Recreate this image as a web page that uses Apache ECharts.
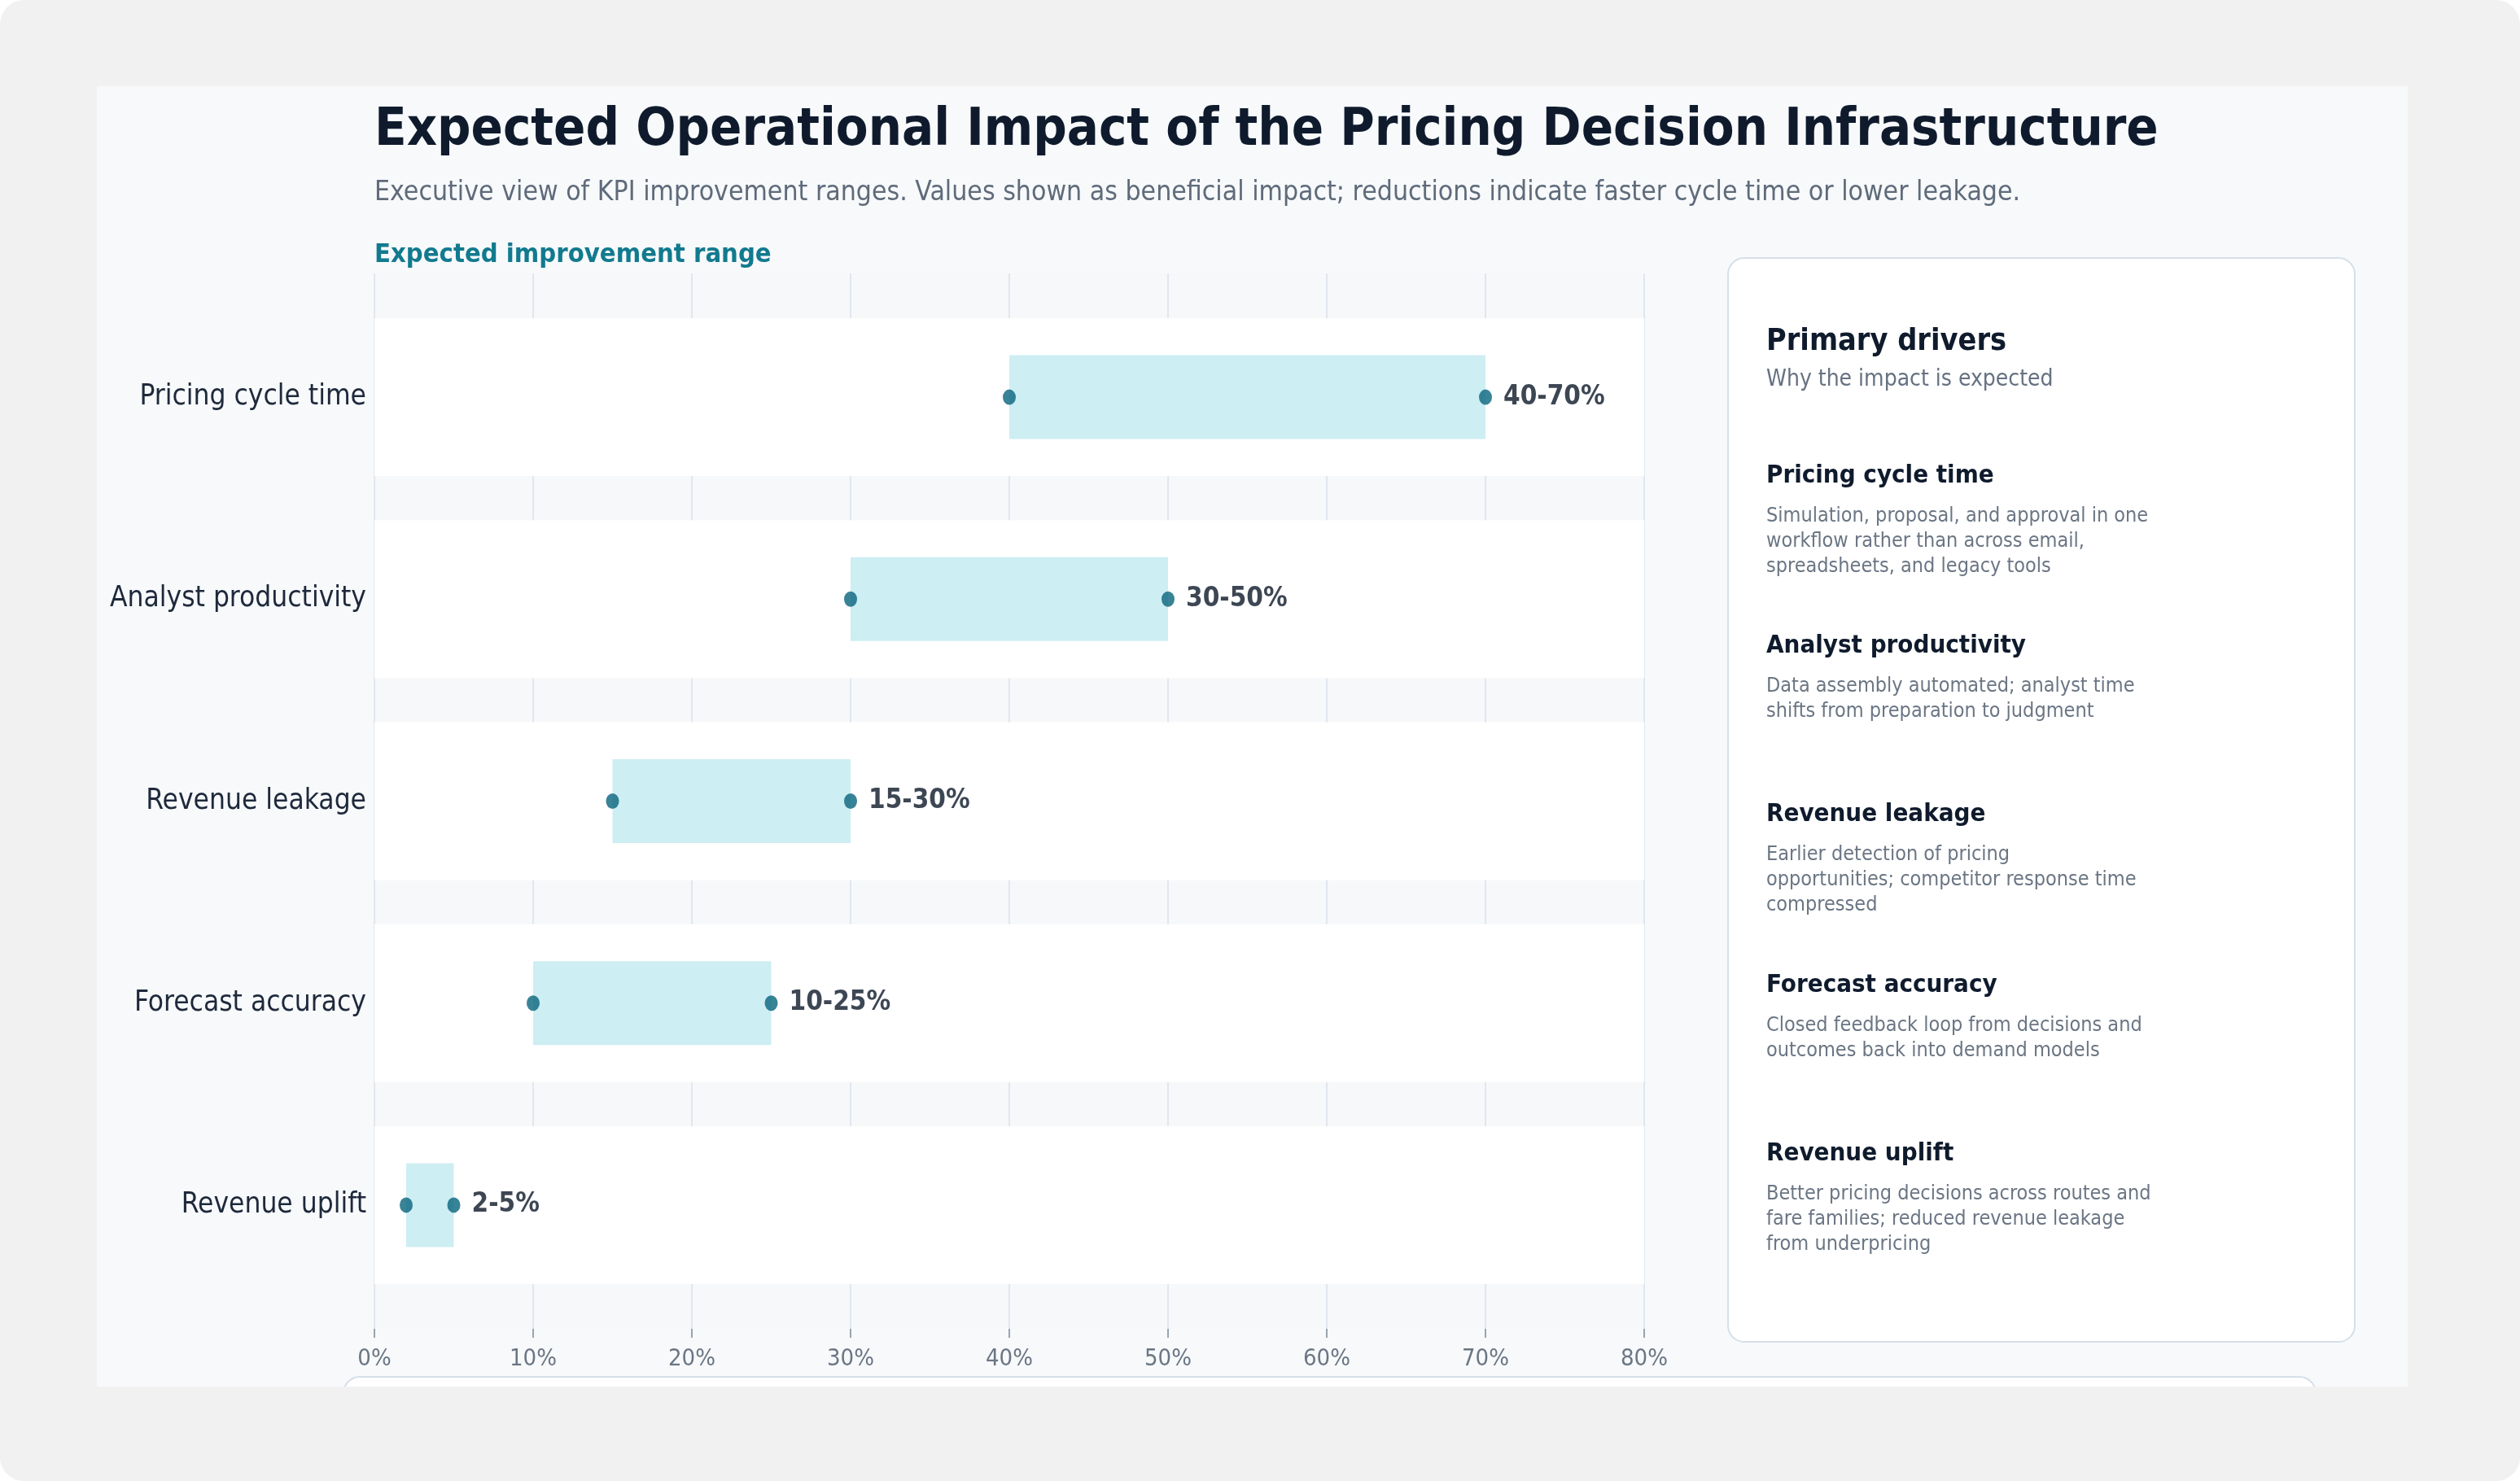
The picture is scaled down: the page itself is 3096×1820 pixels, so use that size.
<!DOCTYPE html>
<html>
<head>
<meta charset="utf-8">
<title>Expected Operational Impact</title>
<script src="https://cdn.jsdelivr.net/npm/echarts@6/dist/echarts.min.js"></script>
<style>
html, body { margin: 0; padding: 0; background: #ffffff; }
#main { width: 3096px; height: 1820px; }
</style>
</head>
<body>
<div id="main"></div>
<script>
// KPI ranges (percent of beneficial impact)
var categories = ['Pricing cycle time', 'Analyst productivity', 'Revenue leakage', 'Forecast accuracy', 'Revenue uplift'];
var lowValues = [40, 30, 15, 10, 2];
var highValues = [70, 50, 30, 25, 5];
var xTicks = [0, 10, 20, 30, 40, 50, 60, 70, 80];

// side panel text
var driverTitles = ['Pricing cycle time', 'Analyst productivity', 'Revenue leakage', 'Forecast accuracy', 'Revenue uplift'];
var driverNotes = [
	['Simulation, proposal, and approval in one', 'workflow rather than across email,', 'spreadsheets, and legacy tools'],
	['Data assembly automated; analyst time', 'shifts from preparation to judgment'],
	['Earlier detection of pricing', 'opportunities; competitor response time', 'compressed'],
	['Closed feedback loop from decisions and', 'outcomes back into demand models'],
	['Better pricing decisions across routes and', 'fare families; reduced revenue leakage', 'from underpricing']
];

var FONT = "'DejaVu Sans Condensed', 'DejaVu Sans', sans-serif";
var xMin = xTicks[0], xMax = xTicks[xTicks.length - 1];

function initChart() {
	var spans = [], lowPts = [], highPts = [], bands = [];
	for (var i = 0; i < categories.length; i++) {
		spans.push(highValues[i] - lowValues[i]);
		lowPts.push([lowValues[i], i]);
		highPts.push([highValues[i], i]);
		bands.push(xMax);
	}

	// side card graphics
	var cardX = 2123, cardY = 317, textX = 2170;
	var card = [{
		type: 'rect',
		shape: { x: cardX, y: cardY, width: 770, height: 1332, r: 20 },
		style: { fill: '#ffffff', stroke: '#d6dfe9', lineWidth: 2 },
		z: 2
	}, {
		type: 'text', x: textX, y: 420, z: 3,
		style: { text: 'Primary drivers', font: 'bold 37.5px ' + FONT, fill: '#0f1b2d', verticalAlign: 'middle' }
	}, {
		type: 'text', x: textX, y: 467, z: 3,
		style: { text: 'Why the impact is expected', font: '28px ' + FONT, fill: '#667282', verticalAlign: 'middle' }
	}];
	var itemY = [585, 794, 1001, 1211, 1418];
	for (var k = 0; k < driverTitles.length; k++) {
		card.push({
			type: 'text', x: textX, y: itemY[k], z: 3,
			style: { text: driverTitles[k], font: 'bold 31px ' + FONT, fill: '#0f1b2d', verticalAlign: 'middle' }
		});
		for (var j = 0; j < driverNotes[k].length; j++) {
			card.push({
				type: 'text', x: textX, y: itemY[k] + 49 + j * 31, z: 3,
				style: { text: driverNotes[k][j], font: '25px ' + FONT, fill: '#6b7684', verticalAlign: 'middle' }
			});
		}
	}

	var option = {
		animation: false,
		backgroundColor: '#ffffff',
		graphic: [{
			type: 'rect', z: -10,
			shape: { x: 0, y: 0, width: 3096, height: 1820, r: 30 },
			style: { fill: '#f1f1f1' }
		}, {
			type: 'rect', z: -9,
			shape: { x: 119, y: 106, width: 2839, height: 1598 },
			style: { fill: '#f7f9fb' }
		}, {
			// next card peeking from below
			type: 'rect', z: -8,
			shape: { x: 422, y: 1692, width: 2423, height: 60, r: 20 },
			style: { fill: '#ffffff', stroke: '#d6dfe9', lineWidth: 2 }
		}, {
			type: 'rect', z: -7,
			shape: { x: 0, y: 1704, width: 3096, height: 116, r: [0, 0, 30, 30] },
			style: { fill: '#f1f1f1' }
		}, {
			type: 'text', x: 460, y: 161,
			style: { text: 'Expected Operational Impact of the Pricing Decision Infrastructure', font: 'bold 64.5px ' + FONT, fill: '#0f1b2d', verticalAlign: 'middle' }
		}, {
			type: 'text', x: 460, y: 237,
			style: { text: 'Executive view of KPI improvement ranges. Values shown as beneficial impact; reductions indicate faster cycle time or lower leakage.', font: '33.5px ' + FONT, fill: '#5f6b7a', verticalAlign: 'middle' }
		}, {
			type: 'text', x: 460, y: 314,
			style: { text: 'Expected improvement range', font: 'bold 32.5px ' + FONT, fill: '#127a8e', verticalAlign: 'middle' }
		}].concat(card),
		grid: [{
			left: 460, right: 1076, top: 336, bottom: 187,
			show: true, backgroundColor: '#f6f8fa', borderWidth: 0
		}, {
			left: 460, right: 1076, top: 364, bottom: 215
		}],
		xAxis: [{
			type: 'value', gridIndex: 0, min: xMin, max: xMax, interval: 10,
			axisLine: { show: false },
			axisTick: { show: true, length: 11, lineStyle: { color: '#9aa4b0', width: 2 } },
			axisLabel: { formatter: '{value}%', fontFamily: FONT, fontSize: 29, color: '#6b7684', margin: 23 },
			splitLine: { show: true, lineStyle: { color: '#e1e7ee', width: 2 } }
		}, {
			type: 'value', gridIndex: 1, min: xMin, max: xMax, show: false
		}],
		yAxis: [{
			type: 'value', gridIndex: 0, show: false, min: 0, max: 1
		}, {
			type: 'category', gridIndex: 1, inverse: true, data: categories,
			axisLine: { show: false },
			axisTick: { show: false },
			axisLabel: { fontFamily: FONT, fontSize: 35, color: '#1e293b', margin: 10, padding: [4, 0, 0, 0] }
		}, {
			type: 'category', gridIndex: 1, inverse: true, data: categories, show: false
		}],
		series: [{
			name: 'band', type: 'bar', xAxisIndex: 1, yAxisIndex: 2,
			data: bands, barWidth: 194, silent: true,
			itemStyle: { color: '#ffffff' }, z: 1
		}, {
			name: 'base', type: 'bar', xAxisIndex: 1, yAxisIndex: 1, stack: 'range',
			data: lowValues, barWidth: 103, silent: true,
			itemStyle: { color: 'transparent' }, z: 2
		}, {
			name: 'range', type: 'bar', xAxisIndex: 1, yAxisIndex: 1, stack: 'range',
			data: spans, barWidth: 103,
			itemStyle: { color: '#cdeef3' }, z: 2
		}, {
			name: 'low', type: 'scatter', xAxisIndex: 1, yAxisIndex: 1,
			data: lowPts, symbolSize: [16, 19],
			itemStyle: { color: '#07647d' }, z: 3
		}, {
			name: 'high', type: 'scatter', xAxisIndex: 1, yAxisIndex: 1,
			data: highPts, symbolSize: [16, 19],
			itemStyle: { color: '#07647d' }, z: 3,
			label: {
				show: true, position: 'right', distance: 14,
				fontFamily: FONT, fontSize: 33, fontWeight: 'bold', color: '#0c1828',
				formatter: function(p) {
					return lowValues[p.dataIndex] + '-' + highValues[p.dataIndex] + '%';
				}
			}
		}]
	};
	var myChart = echarts.init(document.getElementById('main'));
	myChart.setOption(option);
}

initChart();
</script>
</body>
</html>
